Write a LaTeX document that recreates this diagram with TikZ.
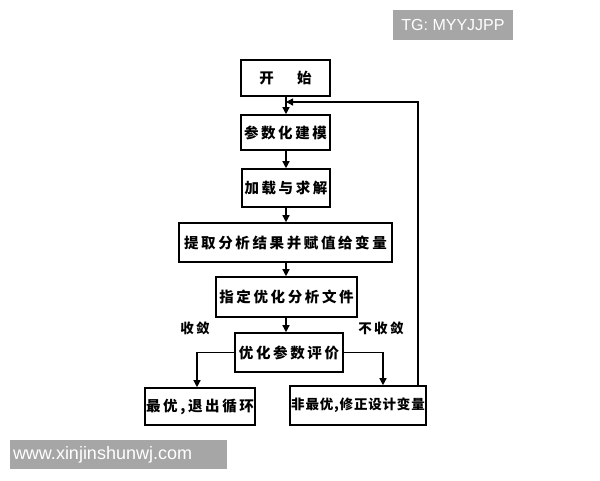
\documentclass[tikz,border=0pt]{standalone}
\usepackage{fontspec}
\newfontfamily\cjk[LetterSpace=18]{Noto Sans CJK SC}
\newfontfamily\cjkn[LetterSpace=6]{Noto Sans CJK SC}
\setmainfont{Liberation Sans}
\usetikzlibrary{arrows.meta}
\tikzset{
  box/.style={draw, line width=1.6pt, inner sep=0pt, font=\cjk\fontsize{14.5}{16}\selectfont\bfseries},
  conn/.style={line width=1.3pt, -{Triangle[length=7pt,width=7pt]}},
  lbl/.style={font=\cjk\fontsize{13.5}{15}\selectfont\bfseries, inner sep=0pt},
  wm/.style={fill=black!35, text=white, inner sep=0pt}
}
\begin{document}
\begin{tikzpicture}[x=1pt,y=-1pt]
\useasboundingbox (0,0) rectangle (600,480);
\fill[white] (0,0) rectangle (600,480);
% watermarks
\node[wm, minimum width=120pt, minimum height=30pt, font=\fontsize{16}{18}\selectfont] (tg) at (453,25) {TG: MYYJJPP};
\node[wm, minimum width=217pt, minimum height=29pt, text width=211pt, align=left, font=\fontsize{18}{20}\selectfont] (www) at (118.5,454.5) {www.xinjinshunwj.com};
% boxes
\node[box, minimum width=89pt, minimum height=36pt] (start) at (285.5,78) {开\hspace{1.6em}始};
\node[box, minimum width=89pt, minimum height=35pt] (model) at (285.5,132.5) {参数化建模};
\node[box, minimum width=88pt, minimum height=38pt] (load) at (286,188) {加载与求解};
\node[box, minimum width=213pt, minimum height=39pt] (extract) at (285.5,242.5) {提取分析结果并赋值给变量};
\node[box, minimum width=141pt, minimum height=40pt] (spec) at (286.5,297) {指定优化分析文件};
\node[box, minimum width=108pt, minimum height=39pt] (eval) at (289,352.5) {优化参数评价};
\node[box, minimum width=110pt, minimum height=37pt] (opt) at (200,406.5) {最优,退出循环};
\node[box, minimum width=136pt, minimum height=39pt, font=\cjkn\fontsize{13.5}{15}\selectfont\bfseries] (nonopt) at (358,405.5) {非最优,修正设计变量};
% labels
\node[lbl] (conv) at (195,328) {收敛};
\node[lbl] (nconv) at (381,328) {不收敛};
% connectors
\coordinate (join) at (286,102);
\coordinate (fbtop) at (418,102);
\draw[conn] (start.south -| join) -- (model.north -| join);
\draw[conn] (model.south -| join) -- (load.north -| join);
\draw[conn] (load.south -| join) -- (extract.north -| join);
\draw[conn] (extract.south -| join) -- (spec.north -| join);
\draw[conn] (spec.south -| join) -- (eval.north -| join);
\draw[conn] (eval.west) -| (opt.north -| 197,0);
\draw[conn] (eval.east) -| (nonopt.north -| 383,0);
\draw[conn] (nonopt.north -| fbtop) -- (fbtop) -- (join);
\end{tikzpicture}
\end{document}
